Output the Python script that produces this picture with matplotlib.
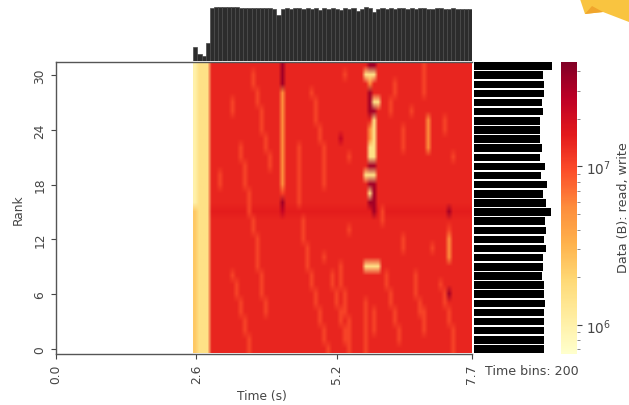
import matplotlib
matplotlib.use("Agg")
import matplotlib.pyplot as plt
import numpy as np
from matplotlib.colors import LogNorm
from matplotlib.patches import Polygon

W, H = 629, 406

# one character per cell (2 time bins), top row is rank 31
heat_rows = [
    "pyyy...... .......... .D........ .......... ..DD...... .....-.... .......",
    "pyyy...... ....-..... .D........ ......-... .yyy...... .....-.... .......",
    "pyyy...... ....-..... .D........ .......... ..o.....-. .....-.... .......",
    "pyyy...... .....-.... .o......-. .......... ..D.....-. .....-.... .......",
    "pyyy.....- .....-.... .o.......- .......... ..Dyy..-.. .......... .......",
    "pyyy.....- ......-... .o.......- .......... ..DD...-.. ..-....... .......",
    "pyyy...... ......-... .o.......- .......... ...y...... ......o... -......",
    "pyyy...... ......-... .o........ -......... ..oy...... -.....o... -......",
    "pyyy...... .......-.. .o........ -....d.... ..oy...... -.....o... .......",
    "pyyy...... .-.....-.. .o...-.... .-........ ..yy...... -.....o... .......",
    "pyyy...... .-......-. .o...-.... .-.....-.. ..yy...... .......... ..-....",
    "pyyy...... ..-.....-. .o...-.... .-........ ..DD...... .......... .......",
    "pyyy..-... ..-....... .o...-.... .-........ .yyy...... .......... .......",
    "pyyy..-... ..-....... .o...-.... .-........ ..DD...... .......... .......",
    "pyyy...... ...-...... .-...-.... .......... ..yD...... .......... .......",
    "pyyy...... ...-...... .D...-.... .......... ..DD...... .......... .......",
    "lyyyrrrrrr rrr-rrrrrr rdrrrrrrrr rrrrrrrrrr rrrDr-rrrr rrrrrrrrrr rDrrrrr",
    "lyyy...... ....-..... ......-... .......... .....-.... .......... .......",
    "lyyy...... ....-..... ......-... .......-.. .......... .......... .-.....",
    "lyyy...... .....-.... ......-... .......... .......... -......... .o.....",
    "lyyy...... .....-.... .......-.. .......... .......... -......-.. .o.....",
    "lyyy...... .....-.... .......-.. .-........ .......... .......... .o.....",
    "lyyy...... .....-.... .......-.. .....-.... .yyyy..... .......... .......",
    "lyyy.....- ......-... ........-. ...-.-.... ......-... ...-...... .......",
    "lyyy...... -.....-... ........-. ...-.-.... ......-... ...-.....- .......",
    "lyyy...... -.....-... .........- ....-.-... .......-.. ...-...... -D.....",
    "lyyy...... .-.....-.. .........- ....-.-... .-.....-.. ....-..... -......",
    "lyyy...... .-.....-.. .......... -....--... .-.-....-. ....--.... .-.....",
    "lyyy...... ..-....... .......... -....-.-.. .-.-....-. .....-.... .-.....",
    "lyyy...... ..-....... .......... .-....--.. .-.-.....- .....-.... ..-....",
    "lyyy...... ...-...... .......... .-....--.. .-.......- .......... ..-....",
    "lyyy...... ...-...... .......... ..-....-.. .-........ .......... ..-....",
]
# bytes for each cell character
level_bytes = {".": 1.4e7, "-": 1.05e7, "r": 1.55e7, "d": 2.4e7, "D": 3.4e7,
               "o": 5.5e6, "l": 2.4e6, "y": 1.55e6, "p": 1.0e6}

# bytes per time cell, top histogram (arbitrary scale read in pixels)
time_totals = [14, 7, 5, 18, 53, 54, 54, 54, 54, 54, 54, 53, 53, 53, 53, 53, 53, 53, 53, 52,
               46, 52, 53, 52, 53, 53, 52, 53, 52, 53, 51, 53, 52, 53, 52, 51, 53, 52, 53, 50,
               52, 54, 53, 49, 52, 53, 52, 53, 52, 53, 53, 52, 53, 52, 53, 53, 52, 52, 53, 53,
               52, 52, 53, 52, 52, 52, 52]
# rank totals, rank 31 first
rank_totals = [78, 69, 70, 70, 68, 69, 66, 66, 66, 68, 66, 71, 67, 73, 69, 72,
               77, 71, 72, 70, 72, 69, 69, 68, 70, 70, 71, 70, 70, 70, 70, 70]

time_start = 2.541
time_end = 7.7
xtick_vals = [0.0, 2.6, 5.2, 7.7]
xtick_labels = ["0.0", "2.6", "5.2", "7.7"]
ytick_vals = [0, 6, 12, 18, 24, 30]

heat = np.array([[level_bytes[c] for c in row.replace(" ", "")] for row in heat_rows])
n_ranks, n_cells = heat.shape
cell_w = (time_end - time_start) / n_cells
cell_mid = time_start + cell_w * (np.arange(n_cells) + 0.5)
ranks = np.arange(n_ranks)[::-1]


def box(x0, y0, x1, y1):
    # pixel box from the top left to figure fractions
    return [x0 / W, 1 - y1 / H, (x1 - x0) / W, (y1 - y0) / H]


fig = plt.figure(figsize=(W / 100, H / 100), dpi=100)
ink = "#454545"
fs = 8.8

ax = fig.add_axes(box(56, 62.5, 472, 354.5))
norm = LogNorm(vmin=6.6e5, vmax=4.6e7)
im = ax.imshow(heat, cmap="YlOrRd", norm=norm, aspect="auto", origin="upper",
               extent=(time_start, time_end, -0.5, 31.5),
               interpolation="bilinear", interpolation_stage="rgba")
ax.set_xlim(0, time_end)
ax.set_ylim(-0.5, 31.5)
ax.set_xticks(xtick_vals)
ax.set_xticklabels(xtick_labels, rotation=90, fontsize=fs, color=ink)
ax.set_yticks(ytick_vals)
ax.set_yticklabels(ytick_vals, rotation=90, va="center", fontsize=fs, color=ink)
ax.tick_params(colors=ink, length=3.5, width=0.8)
for s in ax.spines.values():
    s.set_color("#555555")
    s.set_linewidth(1.0)
ax.spines["right"].set_visible(False)

top = fig.add_axes(box(56, 8, 472, 62))
top.bar(cell_mid, time_totals, width=cell_w, color="#2c2c2c", edgecolor="#4a4a4a", linewidth=0.5)
top.set_xlim(0, time_end)
top.set_ylim(0, 54)
top.axis("off")

side = fig.add_axes(box(474, 62.5, 553, 354.5))
side.barh(ranks, rank_totals, height=0.82, color="black", linewidth=0)
side.set_xlim(0, 79)
side.set_ylim(-0.5, 31.5)
side.axis("off")

cax = fig.add_axes(box(561, 62.5, 576.5, 354.5))
cb = fig.colorbar(im, cax=cax)
cb.outline.set_visible(False)
cax.tick_params(which="major", length=3.5, width=0.8, colors=ink, labelsize=fs + 1)
cax.tick_params(which="minor", length=2, width=0.6, colors="#777777")

fig.text(262 / W, 1 - 397 / H, "Time (s)", fontsize=fs, color=ink, ha="center", va="center")
fig.text(18 / W, 1 - 210 / H, "Rank", fontsize=fs, color=ink, rotation=90, ha="center", va="center")
fig.text(623 / W, 1 - 208 / H, "Data (B): read, write", fontsize=fs + 0.4, color=ink,
         rotation=90, ha="center", va="center")
fig.text(485 / W, 1 - 372 / H, "Time bins: 200", fontsize=fs + 0.3, color=ink, ha="left", va="center")


# bit of a yellow shape sticking in at the top right corner
def corner(points, color):
    pts = [(x / W, 1 - y / H) for x, y in points]
    fig.add_artist(Polygon(pts, closed=True, transform=fig.transFigure, color=color, lw=0))


corner([(580, 0), (585, 15), (603, 13), (629, 23), (629, 0)], "#f9c440")
corner([(585, 15), (592, 7), (603, 13)], "#f0a52c")

fig.savefig("out.png", dpi=100)
